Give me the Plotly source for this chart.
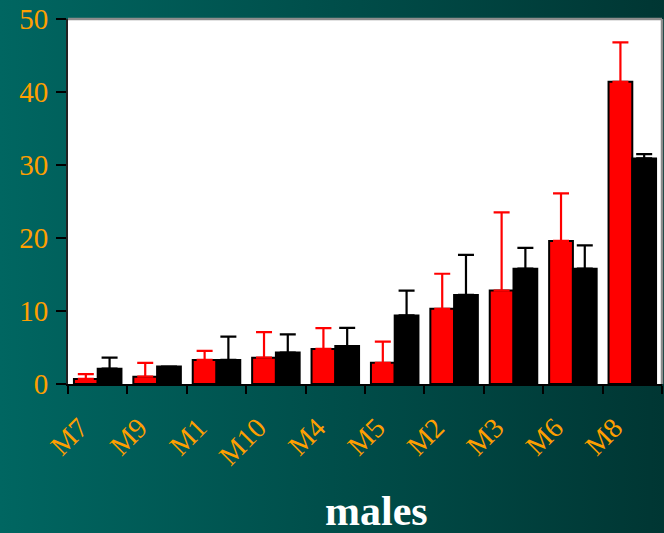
import plotly.graph_objects as go

# Group means with upper standard-error bars, per male
males = ["M7", "M9", "M1", "M10", "M4", "M5", "M2", "M3", "M6", "M8"]
red_vals = [0.7, 1.0, 3.3, 3.6, 4.8, 2.9, 10.3, 12.8, 19.6, 41.4]
red_err = [0.65, 1.9, 1.25, 3.5, 2.85, 2.9, 4.8, 10.7, 6.5, 5.4]
black_vals = [2.1, 2.4, 3.3, 4.3, 5.2, 9.4, 12.2, 15.8, 15.8, 30.9]
black_err = [1.5, 0.0, 3.2, 2.5, 2.5, 3.4, 5.5, 2.85, 3.2, 0.6]
y_ticks = [0, 10, 20, 30, 40, 50]

W, H = 664, 533
L, R, T, B = 68, 2, 19, 149
PW, PH = W - L - R, H - T - B

SERIF = "Times New Roman, Liberation Serif, serif"
ORANGE = "#FF9F00"

# horizontal teal gradient for the page background
grad_svg = (
    "<svg xmlns='http://www.w3.org/2000/svg' width='664' height='533'>"
    "<defs><linearGradient id='g' x1='0' y1='0' x2='1' y2='0'>"
    "<stop offset='0' stop-color='rgb(0,102,97)'/>"
    "<stop offset='1' stop-color='rgb(0,54,51)'/>"
    "</linearGradient></defs>"
    "<rect width='664' height='533' fill='url(#g)'/></svg>"
)
grad_uri = "data:image/svg+xml;utf8," + grad_svg.replace("#", "%23").replace("<", "%3C").replace(">", "%3E")

fig = go.Figure()
fig.add_trace(go.Bar(
    x=males, y=red_vals,
    marker=dict(color="#FF0000", line=dict(color="black", width=2)),
    error_y=dict(type="data", array=red_err, arrayminus=[0] * len(red_err),
                 symmetric=False, color="#FF0000", thickness=2.2, width=8),
    showlegend=False,
))
fig.add_trace(go.Bar(
    x=males, y=black_vals,
    marker=dict(color="black", line=dict(color="black", width=2)),
    error_y=dict(type="data", array=black_err, arrayminus=[0] * len(black_err),
                 symmetric=False, color="black", thickness=2.2, width=8),
    showlegend=False,
))

fig.update_layout(
    width=W, height=H,
    margin=dict(l=L, r=R, t=T, b=B, pad=0),
    paper_bgcolor="rgba(0,0,0,0)",
    plot_bgcolor="rgba(0,0,0,0)",
    font=dict(family=SERIF),
    barmode="group",
    bargap=0.2,
    bargroupgap=0,
    images=[dict(
        source=grad_uri, xref="paper", yref="paper",
        x=-L / PW, y=1 + T / PH, sizex=W / PW, sizey=H / PH,
        xanchor="left", yanchor="top", sizing="stretch", layer="below",
    )],
    shapes=[
        # white plotting area
        dict(type="rect", xref="paper", yref="paper", x0=0, x1=1, y0=0, y1=1,
             fillcolor="white", line=dict(width=0), layer="below"),
        # grey frame on top and right
        dict(type="line", xref="paper", yref="paper", x0=0, x1=1, y0=1, y1=1,
             line=dict(color="#8c8c8c", width=2.5), layer="above"),
        dict(type="line", xref="paper", yref="paper", x0=1, x1=1, y0=0, y1=1,
             line=dict(color="#8c8c8c", width=2.5), layer="above"),
    ],
    annotations=[dict(
        text="<b>males</b>", xref="paper", yref="paper",
        x=(376 - L) / PW, y=(H - B - 511) / PH,
        xanchor="center", yanchor="middle", showarrow=False,
        font=dict(family=SERIF, size=42, color="white"),
    )],
)

fig.update_xaxes(
    showline=True, linecolor="black", linewidth=2,
    ticks="outside", ticklen=8, tickwidth=1.5, tickcolor="black",
    tickson="boundaries",
    tickangle=-45,
    tickfont=dict(family=SERIF, size=28, color=ORANGE),
    ticklabelstandoff=14,
    ticklabelshift=-18,
    showgrid=False, zeroline=False,
)
fig.update_yaxes(
    range=[0, 50], tickvals=y_ticks,
    showline=True, linecolor="#222222", linewidth=2,
    ticks="outside", ticklen=10, tickwidth=1.5, tickcolor="black",
    tickfont=dict(family=SERIF, size=29, color=ORANGE),
    ticklabelstandoff=2,
    showgrid=False, zeroline=False,
)

fig.write_html("out.html")
